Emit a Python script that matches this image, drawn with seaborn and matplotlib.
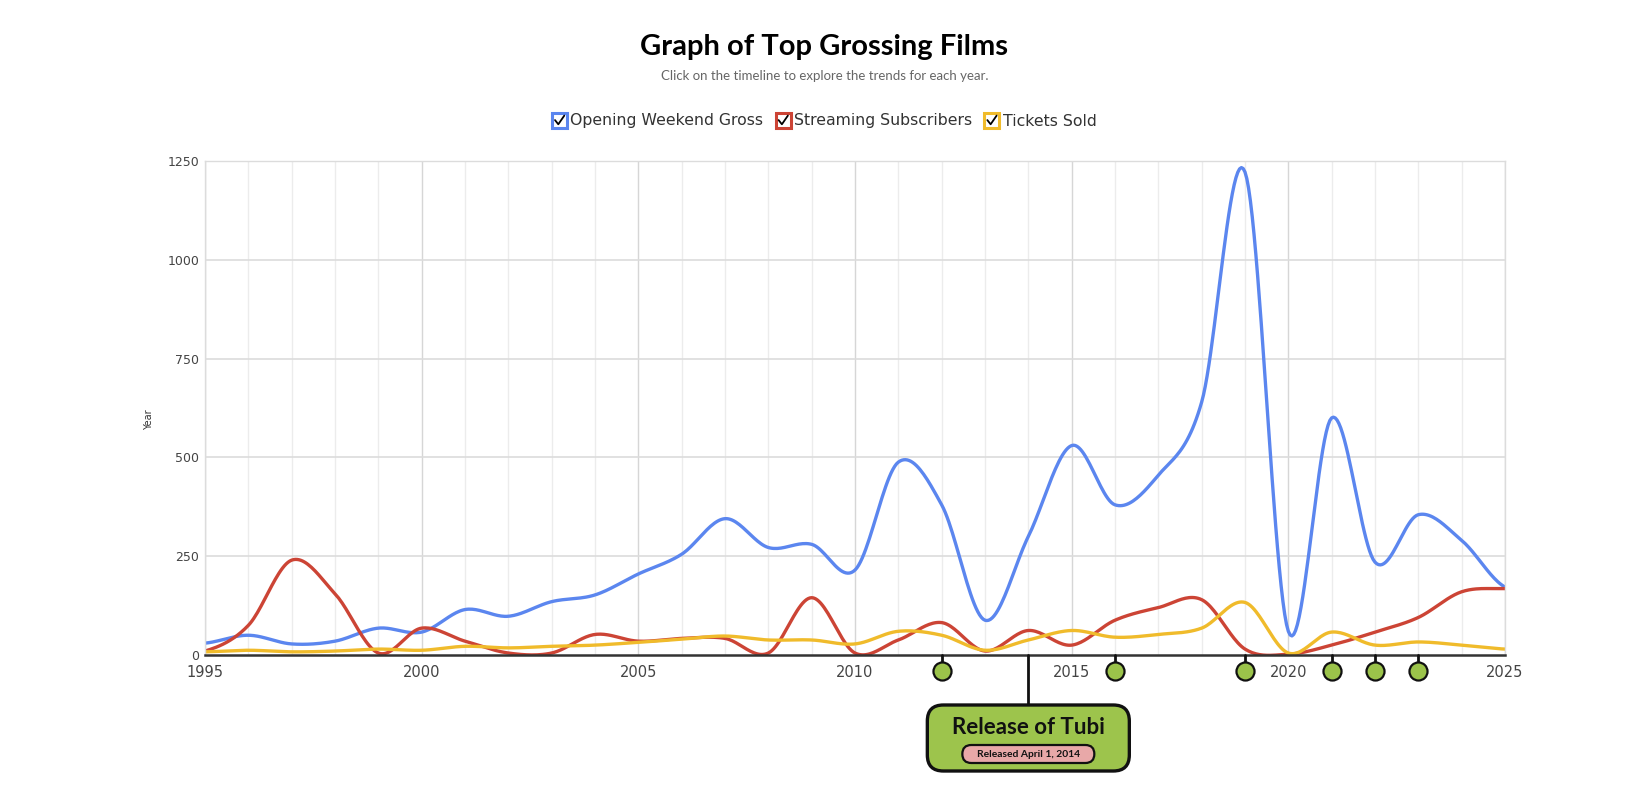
import numpy as np
import pandas as pd
import matplotlib
matplotlib.use("Agg")
import matplotlib.pyplot as plt
import matplotlib.transforms as mtransforms
from matplotlib.patches import Rectangle, FancyBboxPatch
from matplotlib.lines import Line2D
from matplotlib.legend_handler import HandlerBase
import seaborn as sns

# ---- data ----
years = list(range(1995, 2026))
opening_gross = [30, 50, 28, 35, 68, 58, 115, 98, 135, 152, 205, 255, 345, 272, 280, 215,
                 488, 380, 88, 300, 530, 380, 455, 640, 1222, 60, 600, 235, 355, 290, 172]
streaming_subs = [10, 75, 240, 155, 5, 68, 35, 5, 5, 52, 35, 42, 42, 5, 145, 5,
                  38, 82, 10, 62, 25, 88, 120, 140, 15, 2, 25, 58, 95, 160, 168]
tickets_sold = [8, 12, 8, 10, 15, 12, 22, 18, 22, 25, 32, 40, 48, 38, 38, 28,
                60, 50, 12, 38, 62, 45, 52, 68, 133, 5, 58, 25, 33, 25, 15]
series_names = ["Opening Weekend Gross", "Streaming Subscribers", "Tickets Sold"]
series_colors = ["#5b86ef", "#cc4435", "#f0bb2b"]

timeline_years = [2012, 2016, 2019, 2021, 2022, 2023]
selected_year = 2014
selected_title = "Release of Tubi"
selected_sub = "Released April 1, 2014"


def catmull_rom(x, y, n=24):
    # smooth curve through every point (like a "function" curve type)
    x = np.asarray(x, float)
    y = np.asarray(y, float)
    px = np.concatenate([[2 * x[0] - x[1]], x, [2 * x[-1] - x[-2]]])
    py = np.concatenate([[y[0]], y, [y[-1]]])
    xs, ys = [], []
    for i in range(1, len(px) - 2):
        t = np.linspace(0, 1, n, endpoint=False)
        for p, out in ((px, xs), (py, ys)):
            p0, p1, p2, p3 = p[i - 1], p[i], p[i + 1], p[i + 2]
            out.append(0.5 * (2 * p1 + (-p0 + p2) * t
                              + (2 * p0 - 5 * p1 + 4 * p2 - p3) * t ** 2
                              + (-p0 + 3 * p1 - 3 * p2 + p3) * t ** 3))
    xs.append([x[-1]])
    ys.append([y[-1]])
    return np.concatenate(xs), np.concatenate(ys)


frames = []
for name, vals in zip(series_names, [opening_gross, streaming_subs, tickets_sold]):
    sx, sy = catmull_rom(years, vals)
    frames.append(pd.DataFrame({"year": sx, "value": sy, "series": name}))
df = pd.concat(frames, ignore_index=True)

sns.set_theme(style="white")
plt.rcParams["font.family"] = ["DejaVu Sans"]

W, H = 1649, 798
fig = plt.figure(figsize=(W / 100, H / 100), dpi=100)
ax = fig.add_axes([205 / W, 1 - 655 / H, 1300 / W, 494 / H])

sns.lineplot(data=df, x="year", y="value", hue="series", palette=series_colors,
             estimator=None, sort=False, linewidth=2.4, legend=False, ax=ax)

ax.set_xlim(1995, 2025)
ax.set_ylim(0, 1250)
ax.set_xticks([1995, 2000, 2005, 2010, 2015, 2020, 2025])
ax.set_xticks(years, minor=True)
ax.set_yticks([0, 250, 500, 750, 1000, 1250])
ax.set_xlabel("")
ax.set_ylabel("")

# grid lines
for yr in years:
    ax.axvline(yr, color="#d6d6d6" if yr % 5 == 0 else "#ececec", lw=1, zorder=0)
for v in [250, 500, 750, 1000, 1250]:
    ax.axhline(v, color="#dcdcdc", lw=1.2, zorder=0)

for s in ["top", "right", "left"]:
    ax.spines[s].set_color("#dcdcdc")
    ax.spines[s].set_linewidth(1)
ax.spines["bottom"].set_color("#333333")
ax.spines["bottom"].set_linewidth(1.8)
ax.spines["bottom"].set_zorder(5)

ax.tick_params(axis="x", which="major", direction="inout", length=10, width=1.6,
               color="#333333", labelsize=10.5, labelcolor="#444444", pad=2)
ax.tick_params(axis="x", which="minor", direction="out", length=4, width=1.6, color="#333333")
ax.tick_params(axis="y", length=0, labelsize=9, labelcolor="#444444", pad=4)

fig.text(149 / W, 1 - 420 / H, "Year", rotation=90, fontsize=7, color="#333333",
         ha="center", va="center")

# timeline markers below the axis
trans = mtransforms.blended_transform_factory(ax.transData, ax.transAxes)
px_y = 1 / 494
for yr in timeline_years:
    ax.plot([yr, yr], [0, -8 * px_y], color="#111111", lw=2, transform=trans, clip_on=False, zorder=6)
    ax.plot([yr], [-16 * px_y], marker="o", markersize=13, markerfacecolor="#9bc34a",
            markeredgecolor="#111111", markeredgewidth=1.6, transform=trans, clip_on=False, zorder=7)
ax.plot([selected_year, selected_year], [0, -50 * px_y], color="#111111", lw=2,
        transform=trans, clip_on=False, zorder=6)

# overlay in pixel coordinates for the callout
ov = fig.add_axes([0, 0, 1, 1], zorder=10)
ov.set_xlim(0, W)
ov.set_ylim(H, 0)
ov.axis("off")
fig.canvas.draw()
cx = ax.transData.transform((selected_year, 0))[0]

box = FancyBboxPatch((cx - 101, 705), 202, 66, boxstyle="round,pad=0,rounding_size=16",
                     facecolor="#9dc44c", edgecolor="#111111", lw=2.4)
ov.add_patch(box)
ov.text(cx, 727, selected_title, ha="center", va="center", fontsize=16,
        fontweight="bold", family="Lato", color="#111111")
pill = FancyBboxPatch((cx - 66, 745), 132, 18, boxstyle="round,pad=0,rounding_size=9",
                      facecolor="#e8a8a8", edgecolor="#111111", lw=1.6)
ov.add_patch(pill)
ov.text(cx, 754.5, selected_sub, ha="center", va="center", fontsize=7.4,
        fontweight="bold", family="Lato", color="#111111")

# title and subtitle
fig.text(0.5, 1 - 47 / H, "Graph of Top Grossing Films", ha="center", va="center",
         fontsize=21, fontweight="bold", family="Lato", color="#000000")
fig.text(0.5, 1 - 76 / H, "Click on the timeline to explore the trends for each year.",
         ha="center", va="center", fontsize=9.5, family="Lato", color="#666666")


# legend with check boxes
class CheckHandler(HandlerBase):
    def create_artists(self, legend, orig_handle, xdescent, ydescent, width, height, fontsize, trans):
        s = height * 1.15
        x0 = width / 2 - s / 2 - xdescent
        y0 = height / 2 - s / 2 - ydescent
        rect = Rectangle((x0, y0), s, s, facecolor="white", edgecolor=orig_handle.get_color(),
                         lw=2.2, transform=trans)
        check = Line2D([x0 + 0.2 * s, x0 + 0.42 * s, x0 + 0.82 * s],
                       [y0 + 0.5 * s, y0 + 0.22 * s, y0 + 0.8 * s],
                       color="black", lw=1.3, transform=trans)
        return [rect, check]


handles = [Line2D([], [], color=c) for c in series_colors]
leg = fig.legend(handles, series_names, loc="center", bbox_to_anchor=(0.5, 1 - 121 / H),
                 ncol=3, frameon=False, fontsize=11.3, handlelength=0.9, handleheight=0.9,
                 handletextpad=0.25, columnspacing=0.8,
                 handler_map={Line2D: CheckHandler()})
for t in leg.get_texts():
    t.set_color("#333333")

fig.savefig("out.png", dpi=100)
